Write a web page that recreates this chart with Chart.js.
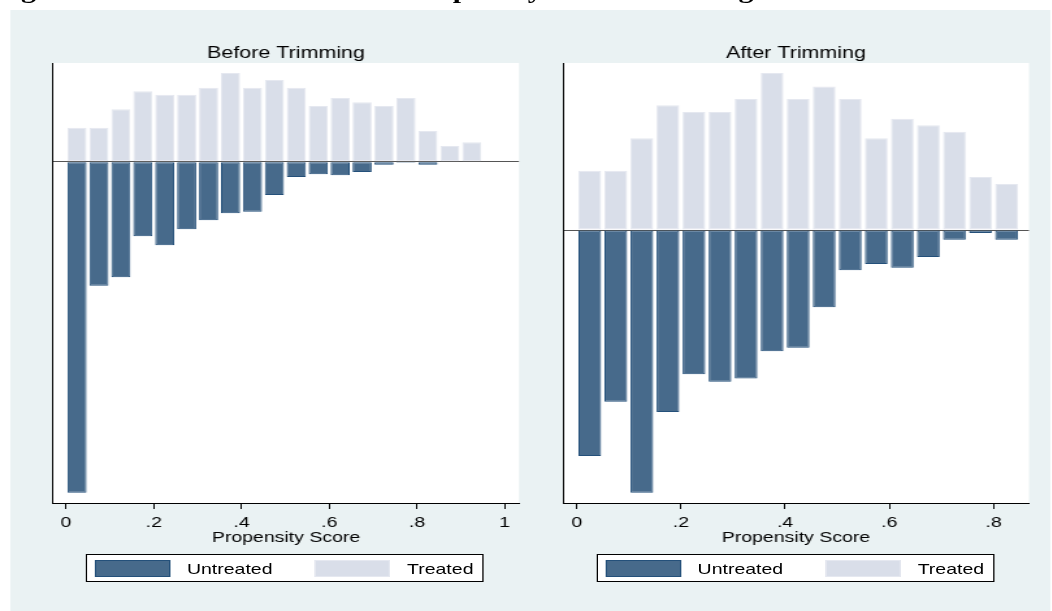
<!DOCTYPE html>
<html>
<head>
<meta charset="utf-8">
<script src="https://cdn.jsdelivr.net/npm/chart.js@4.4.1/dist/chart.umd.min.js"></script>
<style>
  body { margin: 0; background: #fff; width: 1052px; height: 611px; overflow: hidden; position: relative; }
  /* the reference is stretched sideways, so the figure is laid out narrow and scaled */
  #fig { position: absolute; left: 0; top: 0; width: 809px; height: 611px; transform: scaleX(1.3); transform-origin: 0 0; }
  #bg { position: absolute; left: 7.7px; top: 10px; width: 800px; height: 601px; background: #EAF2F3; }
  #doc-title { position: absolute; left: -4px; top: -21px; font: bold 23px/23px "Liberation Serif", "Times New Roman", serif; letter-spacing: -0.18px; white-space: nowrap; color: #000; }
  canvas { position: absolute; top: 30px; }
  .legend { position: absolute; top: 553.7px; height: 28.6px; width: 306.6px; box-sizing: border-box; border: 1px solid #000; background: #fff; font: 15px "Liberation Sans", Arial, sans-serif; color: #000; }
  .legend .sw { position: absolute; top: 5.6px; height: 16.7px; box-sizing: border-box; border: 1px solid; }
  .legend .lb { position: absolute; top: 1.5px; line-height: 26.6px; white-space: nowrap; }
</style>
</head>
<body>
<div id="fig">
  <div id="doc-title">Figure 2: Distribution Results of Propensity Score Trimming</div>
  <div id="bg"></div>
  <canvas id="before" width="404" height="520" style="left:0px"></canvas>
  <canvas id="after" width="404" height="520" style="left:404px"></canvas>
  <div class="legend" id="legBefore" style="left:65.9px"></div>
  <div class="legend" id="legAfter" style="left:458.7px"></div>
</div>
<script>
const seriesNames = ['Untreated', 'Treated'];
const untreatedFill = '#476A8B', untreatedLine = '#24507A';
const treatedFill = '#D9DEE9', treatedLine = '#E5E8F0';

// bin midpoints (width .05)
const binsBefore = [0.025, 0.075, 0.125, 0.175, 0.225, 0.275, 0.325, 0.375, 0.425, 0.475,
                    0.525, 0.575, 0.625, 0.675, 0.725, 0.775, 0.825, 0.875, 0.925];
const treatedBefore = [3.4, 3.4, 5.24, 7.04, 6.7, 6.7, 7.4, 8.87, 7.4, 8.17,
                       7.4, 5.57, 6.37, 5.94, 5.57, 6.37, 3.07, 1.57, 1.94];
const untreatedBefore = [33.1, 12.4, 11.56, 7.46, 8.36, 6.76, 5.86, 5.16, 5.0, 3.33,
                         1.53, 1.26, 1.36, 1.03, 0.3, 0.1, 0.3, null, null];

const binsAfter = [0.025, 0.075, 0.125, 0.175, 0.225, 0.275, 0.325, 0.375, 0.425, 0.475,
                   0.525, 0.575, 0.625, 0.675, 0.725, 0.775, 0.825];
const treatedAfter = [3.37, 3.37, 5.21, 7.09, 6.70, 6.70, 7.44, 8.92, 7.44, 8.16,
                      7.44, 5.21, 6.32, 5.95, 5.59, 3.01, 2.61];
const untreatedAfter = [12.84, 9.76, 14.93, 10.34, 8.20, 8.62, 8.43, 6.89, 6.69, 4.39,
                        2.29, 1.93, 2.14, 1.53, 0.55, 0.17, 0.55];

const ticksBefore = [0, 0.2, 0.4, 0.6, 0.8, 1];
const ticksAfter = [0, 0.2, 0.4, 0.6, 0.8];

Chart.defaults.font.family = '"Liberation Sans", Arial, sans-serif';
Chart.defaults.color = '#000';

const whiteArea = {
  id: 'whiteArea',
  beforeDraw(chart) {
    const a = chart.chartArea, c = chart.ctx;
    c.save();
    c.fillStyle = '#fff';
    c.fillRect(a.left, a.top, a.right - a.left, a.bottom - a.top);
    c.restore();
  }
};

function fmt(v) {
  if (v === 0) return '0';
  if (v === 1) return '1';
  return v.toFixed(1).replace(/^0/, '');
}

function makeChart(id, title, bins, treated, untreated, ticks, xr, yr, pad) {
  const up = bins.map((b, i) => ({ x: b, y: treated[i] }));
  const down = bins.map((b, i) => ({ x: b, y: untreated[i] == null ? null : -untreated[i] }));
  return new Chart(document.getElementById(id), {
    type: 'bar',
    data: {
      datasets: [
        { label: seriesNames[0], data: down, backgroundColor: untreatedFill, borderColor: untreatedLine,
          borderWidth: 1, borderSkipped: false, grouped: false, barPercentage: 0.87, categoryPercentage: 1 },
        { label: seriesNames[1], data: up, backgroundColor: treatedFill, borderColor: treatedLine,
          borderWidth: 1, borderSkipped: false, grouped: false, barPercentage: 0.87, categoryPercentage: 1 }
      ]
    },
    options: {
      responsive: false,
      animation: false,
      events: [],
      layout: { padding: { left: pad[0], right: pad[1], top: 0, bottom: 0 } },
      plugins: {
        legend: { display: false },
        tooltip: { enabled: false },
        title: {
          display: true, text: title, fullSize: false, color: '#000',
          font: { size: 16.5, weight: 'normal' },
          padding: { top: 13.2, bottom: 0 }
        }
      },
      scales: {
        x: {
          type: 'linear', min: xr[0], max: xr[1], offset: false,
          afterBuildTicks: s => { s.ticks = ticks.map(v => ({ value: v })); },
          afterFit: s => { s.height = 47; },
          ticks: { callback: fmt, font: { size: 15 }, color: '#000', padding: 5, maxRotation: 0, autoSkip: false },
          grid: { drawOnChartArea: false, drawTicks: true, tickLength: 6, color: '#000', offset: false },
          border: { color: '#000' },
          title: { display: true, text: 'Propensity Score', font: { size: 15 }, color: '#000', padding: { top: 0, bottom: 3 } }
        },
        y: {
          min: yr[0], max: yr[1], z: 1,
          afterFit: s => { s.width = 0; },
          afterBuildTicks: s => { s.ticks = [{ value: 0 }]; },
          ticks: { display: false },
          grid: { color: '#555', lineWidth: 1, drawTicks: false },
          border: { color: '#000' }
        }
      }
    },
    plugins: [whiteArea]
  });
}

function makeLegend(id) {
  const el = document.getElementById(id);
  const parts = [
    ['sw', 6.6, 57.5, untreatedFill, untreatedLine],
    ['lb', 76.9, 0, seriesNames[0]],
    ['sw', 175.1, 58.5, treatedFill, treatedLine],
    ['lb', 246.2, 0, seriesNames[1]]
  ];
  parts.forEach(p => {
    const d = document.createElement('div');
    d.className = p[0];
    d.style.left = p[1] + 'px';
    if (p[0] === 'sw') {
      d.style.width = p[2] + 'px';
      d.style.background = p[3];
      d.style.borderColor = p[4];
    } else {
      d.textContent = p[3];
    }
    el.appendChild(d);
  });
}

makeChart('before', 'Before Trimming', binsBefore, treatedBefore, untreatedBefore, ticksBefore,
          [-0.0296, 1.0326], [-34.13, 9.87], [40.8, 4.8]);
makeChart('after', 'After Trimming', binsAfter, treatedAfter, untreatedAfter, ticksAfter,
          [-0.0264, 0.8681], [-15.51, 9.49], [29.1, 16.5]);
makeLegend('legBefore');
makeLegend('legAfter');
</script>
</body>
</html>
